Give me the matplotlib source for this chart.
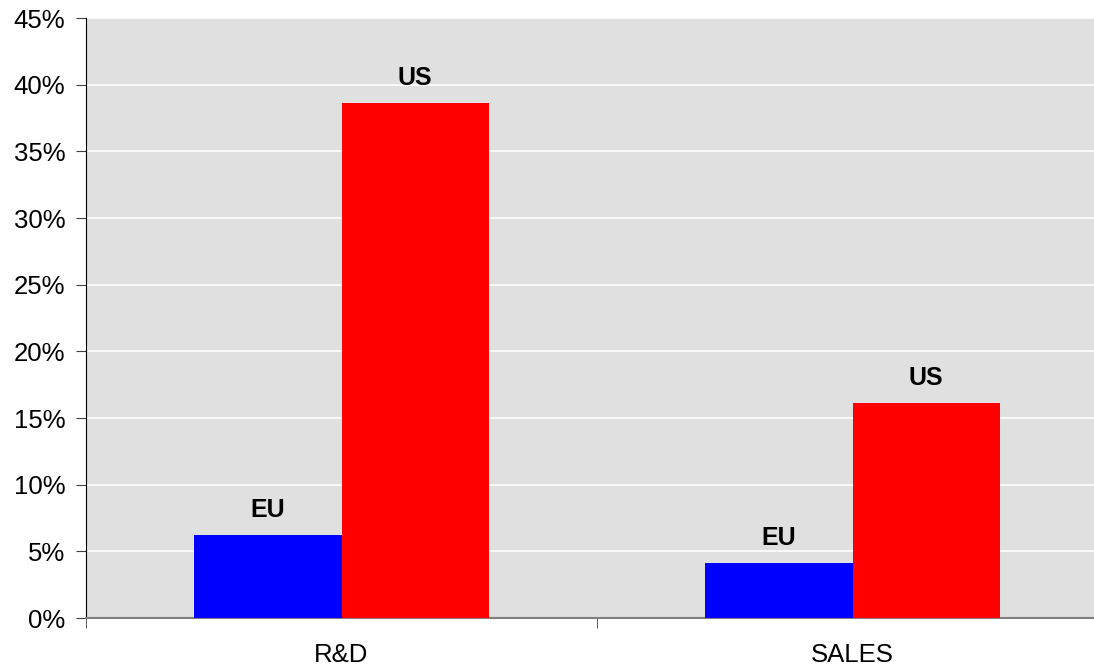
import matplotlib.pyplot as plt
import numpy as np
from matplotlib.ticker import FuncFormatter

plt.rcParams['font.family'] = ['Liberation Sans', 'DejaVu Sans']

# Data
categories = ['R&D', 'SALES']
series_names = ['EU', 'US']
eu_values = [6.2, 4.1]
us_values = [38.6, 16.1]
y_ticks = [0, 5, 10, 15, 20, 25, 30, 35, 40, 45]

colors = {'EU': '#0000FF', 'US': '#FF0000'}

fig = plt.figure(figsize=(10.94, 6.69), dpi=100)
# plot area runs past the right edge, like the original
ax = fig.add_axes([86 / 1094, 51 / 669, 1022 / 1094, 600 / 669])
ax.set_facecolor('#E0E0E0')

x = np.arange(len(categories))
width = 0.288

for vals, name, offset in [(eu_values, 'EU', -width / 2), (us_values, 'US', width / 2)]:
    bars = ax.bar(x + offset, vals, width, color=colors[name], zorder=3)
    for b in bars:
        ax.annotate(name, (b.get_x() + b.get_width() / 2, b.get_height()),
                    xytext=(0, 13), textcoords='offset points',
                    ha='center', va='baseline', fontsize=18, fontweight='bold')

ax.set_xlim(-0.5, 1.5)
ax.set_ylim(0, 45)
ax.set_yticks(y_ticks)
ax.yaxis.set_major_formatter(FuncFormatter(lambda v, p: f'{v:.0f}%'))
ax.grid(axis='y', color='white', linewidth=1.2, zorder=1)

ax.set_xticks(x)
ax.set_xticklabels(categories)
ax.set_xticks([-0.5, 0.5, 1.5], minor=True)
ax.tick_params(axis='x', which='major', length=0, pad=18, labelsize=18.5)
ax.tick_params(axis='x', which='minor', length=7, color='#404040')
ax.tick_params(axis='y', length=7, color='#404040', labelsize=18.5, pad=8)

ax.spines['top'].set_visible(False)
ax.spines['right'].set_visible(False)
ax.spines['left'].set_color('black')
ax.spines['bottom'].set_color('#808080')
ax.spines['bottom'].set_linewidth(1.5)

plt.savefig('out.png', dpi=100)
